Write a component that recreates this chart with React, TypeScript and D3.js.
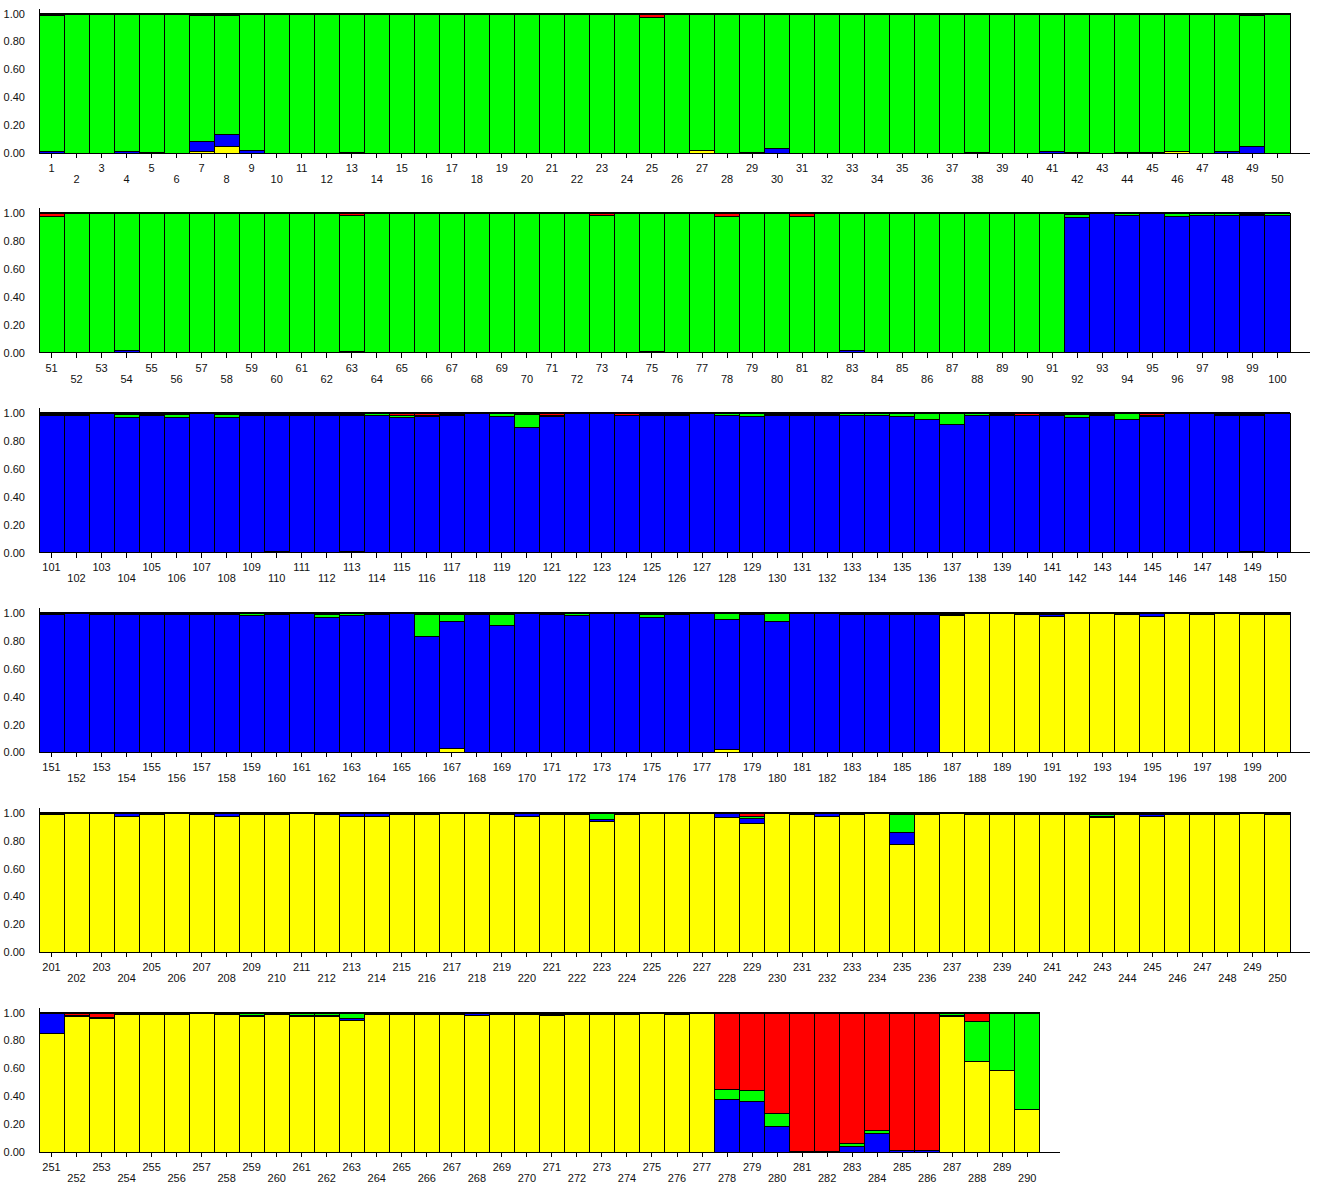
import { useEffect, useRef } from "react"
import * as d3 from "d3"

const WIDTH = 1319
const HEIGHT = 1183

// individuals 1..290, 50 per panel
const individuals = d3.range(1, 291)

// cluster membership (Q) per individual
const yellow = [
  0, 0, 0, 0, 0, 0, .01, .05, 0, 0,
  0, 0, 0, 0, 0, 0, 0, 0, 0, 0,
  0, 0, 0, 0, 0, 0, .015, 0, 0, 0,
  0, 0, 0, 0, 0, 0, 0, 0, 0, 0,
  0, 0, 0, 0, 0, .012, 0, 0, 0, 0,
  // 51-100
  0, 0, 0, 0, 0, 0, 0, 0, 0, 0,
  0, 0, 0, 0, 0, 0, 0, 0, 0, 0,
  0, 0, 0, 0, 0, 0, 0, 0, 0, 0,
  0, 0, 0, 0, 0, 0, 0, 0, 0, 0,
  0, 0, 0, 0, 0, 0, 0, 0, 0, 0,
  // 101-150
  0, 0, 0, 0, 0, 0, 0, 0, 0, .005,
  0, 0, .005, 0, 0, 0, 0, 0, 0, 0,
  0, 0, 0, 0, 0, 0, 0, 0, 0, 0,
  0, 0, 0, 0, 0, 0, 0, 0, 0, 0,
  0, 0, 0, 0, 0, 0, 0, 0, .005, 0,
  // 151-200
  0, 0, 0, 0, 0, 0, 0, 0, 0, 0,
  0, 0, 0, 0, 0, 0, .03, 0, 0, 0,
  0, 0, 0, 0, 0, 0, 0, .02, 0, 0,
  0, 0, 0, 0, 0, 0, .98, .995, .995, .985,
  .975, .995, .995, .985, .975, .995, .985, .995, .985, .985,
  // 201-250
  .985, .995, .995, .975, .985, .995, .985, .975, .985, .985,
  .995, .985, .975, .975, .985, .985, .995, .995, .985, .975,
  .985, .985, .94, .985, .995, .995, .995, .965, .92, .995,
  .985, .975, .985, .995, .77, .985, .995, .985, .985, .985,
  .985, .985, .965, .985, .975, .985, .985, .985, .995, .985,
  // 251-290
  .85, .97, .96, .985, .985, .985, .995, .985, .97, .985,
  .97, .97, .94, .985, .985, .985, .985, .975, .985, .985,
  .975, .985, .985, .985, .995, .985, .995, 0, 0, 0,
  0, 0, 0, 0, 0, 0, .97, .647, .582, .308,
]

const blue = [
  .01, 0, 0, .01, .005, 0, .07, .08, .02, 0,
  0, 0, .005, 0, 0, 0, 0, 0, 0, 0,
  0, 0, 0, 0, 0, 0, 0, 0, .005, .035,
  0, 0, 0, 0, 0, 0, 0, .005, 0, 0,
  .012, .005, 0, .005, .005, 0, 0, .012, .05, 0,
  // 51-100
  0, 0, 0, .02, 0, 0, 0, .005, 0, .005,
  0, 0, .01, 0, .005, .005, 0, 0, .005, .005,
  .005, .005, 0, 0, .012, 0, 0, .005, .005, 0,
  0, 0, .02, 0, 0, .005, .005, 0, 0, 0,
  0, .97, .995, .985, .995, .98, .985, .985, .985, .985,
  // 101-150
  .985, .985, .995, .965, .98, .965, .995, .97, .985, .98,
  .98, .98, .975, .985, .97, .975, .98, .995, .975, .9,
  .975, .995, .995, .98, .98, .985, .995, .985, .975, .985,
  .985, .985, .985, .985, .975, .955, .915, .985, .985, .98,
  .985, .965, .985, .955, .975, .995, .995, .985, .98, .995,
  // 151-200
  .985, .995, .985, .985, .985, .985, .985, .985, .98, .985,
  .995, .97, .98, .985, .995, .83, .91, .985, .91, .995,
  .985, .98, .995, .995, .97, .985, .995, .935, .99, .935,
  .995, .995, .985, .99, .99, .99, .01, .005, .005, .01,
  .015, .005, .005, .01, .02, .005, .01, .005, .01, .01,
  // 201-250
  .01, .005, .005, .02, .01, .005, .01, .02, .01, .01,
  .005, .01, .02, .02, .01, .01, .005, .005, .01, .02,
  .01, .01, .01, .01, .005, .005, .005, .03, .035, .005,
  .01, .02, .01, .005, .085, .01, .005, .01, .01, .01,
  .01, .01, .01, .01, .01, .01, .01, .01, .005, .01,
  // 251-290
  .145, .005, .005, .01, .01, .01, .005, .01, .01, .01,
  .01, .01, .02, .01, .01, .01, .01, .02, .01, .01,
  .01, .01, .01, .01, .005, .01, .005, .375, .363, .184,
  .005, .005, .038, .131, .01, .01, .005, 0, 0, 0,
]

const green = [
  .975, 1, 1, .99, .995, 1, .905, .855, .98, 1,
  1, 1, .995, 1, 1, 1, 1, 1, 1, 1,
  1, 1, 1, 1, .97, 1, .985, 1, .995, .965,
  1, 1, 1, 1, 1, 1, 1, .995, 1, 1,
  .988, .995, 1, .995, .995, .988, 1, .988, .935, 1,
  // 51-100
  .975, 1, 1, .98, 1, 1, 1, .995, 1, .995,
  1, 1, .975, 1, .995, .995, 1, 1, .995, .995,
  .995, .995, .985, 1, .988, 1, 1, .975, .995, 1,
  .98, 1, .98, 1, 1, .995, .995, 1, 1, 1,
  1, .02, .005, .01, .005, .015, .01, .01, .005, .01,
  // 101-150
  .005, .005, .005, .025, .01, .025, .005, .02, .005, .005,
  .01, .01, .01, .01, .01, .005, .01, .005, .02, .09,
  .005, .005, .005, .005, .01, .005, .005, .01, .02, .005,
  .005, .005, .01, .01, .02, .04, .08, .01, .005, .005,
  .005, .025, .005, .04, .005, .005, .005, .005, .005, .005,
  // 151-200
  .005, .005, .005, .005, .005, .005, .005, .005, .015, .005,
  .005, .02, .015, .005, .005, .16, .05, .005, .08, .005,
  .005, .015, .005, .005, .02, .005, .005, .04, .005, .06,
  .005, .005, .005, .005, .005, .005, .005, 0, 0, .005,
  .005, 0, 0, .005, .005, 0, .005, 0, .005, .005,
  // 201-250
  .005, 0, 0, .005, .005, 0, .005, .005, .005, .005,
  0, .005, .005, .005, .005, .005, 0, 0, .005, .005,
  .005, .005, .045, .005, 0, 0, 0, .005, .015, 0,
  .005, .005, .005, 0, .135, .005, 0, .005, .005, .005,
  .005, .005, .01, .005, .015, .005, .005, .005, 0, .005,
  // 251-290
  0, 0, 0, .005, .005, .005, 0, .005, .015, .005,
  .015, .015, .03, .005, .005, .005, .005, .005, .005, .005,
  0, .005, .005, .005, 0, .005, 0, .07, .077, .093,
  0, 0, .024, .024, 0, 0, .015, .289, .418, .692,
]

const red = [
  .015, 0, 0, 0, 0, 0, .015, .015, 0, 0,
  0, 0, 0, 0, 0, 0, 0, 0, 0, 0,
  0, 0, 0, 0, .03, 0, 0, 0, 0, 0,
  0, 0, 0, 0, 0, 0, 0, 0, 0, 0,
  0, 0, 0, 0, 0, 0, 0, 0, .015, 0,
  // 51-100
  .025, 0, 0, 0, 0, 0, 0, 0, 0, 0,
  0, 0, .015, 0, 0, 0, 0, 0, 0, 0,
  0, 0, .015, 0, 0, 0, 0, .02, 0, 0,
  .02, 0, 0, 0, 0, 0, 0, 0, 0, 0,
  0, .01, 0, .005, 0, .005, .005, .005, .01, .005,
  // 101-150
  .01, .01, 0, .01, .01, .01, 0, .01, .01, .01,
  .01, .01, .01, .005, .02, .02, .01, 0, .005, .01,
  .02, 0, 0, .015, .01, .01, 0, .005, .005, .01,
  .01, .01, .005, .005, .005, .005, .005, .005, .01, .015,
  .01, .01, .01, .005, .02, 0, 0, .01, .01, 0,
  // 151-200
  .01, 0, .01, .01, .01, .01, .01, .01, .005, .01,
  0, .01, .005, .01, 0, .01, .01, .01, .01, 0,
  .01, .005, 0, 0, .01, .01, 0, .005, .005, .005,
  0, 0, .01, .005, .005, .005, .005, 0, 0, 0,
  .005, 0, 0, 0, 0, 0, 0, 0, 0, 0,
  // 201-250
  0, 0, 0, 0, 0, 0, 0, 0, 0, 0,
  0, 0, 0, 0, 0, 0, 0, 0, 0, 0,
  0, 0, .005, 0, 0, 0, 0, 0, .03, 0,
  0, 0, 0, 0, .01, 0, 0, 0, 0, 0,
  0, 0, .015, 0, 0, 0, 0, 0, 0, 0,
  // 251-290
  .005, .025, .035, 0, 0, 0, 0, 0, .005, 0,
  .005, .005, .01, 0, 0, 0, 0, 0, 0, 0,
  .015, 0, 0, 0, 0, 0, 0, .555, .56, .723,
  .995, .995, .938, .845, .99, .99, .01, .064, 0, 0,
]

const yTicks = [0, 0.2, 0.4, 0.6, 0.8, 1]

const KEYS = ["yellow", "blue", "green", "red"] as const
const COLORS: Record<string, string> = {
  yellow: "#ffff00",
  blue: "#0000ff",
  green: "#00ff00",
  red: "#ff0000",
}

const PER_ROW = 50
const LEFT = 39
const STEP = 25.02
const ROW_TOP = 13.5
const ROW_GAP = 199.8
const PANEL_H = 139.5

type Row = { id: number; yellow: number; blue: number; green: number; red: number }

export default function App() {
  const svgRef = useRef<SVGSVGElement>(null)

  useEffect(() => {
    if (!svgRef.current) return
    const svg = d3.select(svgRef.current)
    svg.selectAll("*").remove()

    const rows: Row[] = individuals.map((id, i) => ({
      id,
      yellow: yellow[i],
      blue: blue[i],
      green: green[i],
      red: red[i],
    }))

    const nPanels = Math.ceil(rows.length / PER_ROW)
    for (let p = 0; p < nPanels; p++) {
      const data = rows.slice(p * PER_ROW, (p + 1) * PER_ROW)
      const top = ROW_TOP + p * ROW_GAP
      const bottom = top + PANEL_H
      const right = LEFT + data.length * STEP

      const x = d3.scaleBand<number>().domain(data.map((d) => d.id)).range([LEFT, right]).padding(0)
      const y = d3.scaleLinear().domain([0, 1]).range([bottom, top])

      const g = svg.append("g")
      const layers = d3.stack<Row>().keys(KEYS as unknown as string[])(data)

      layers.forEach((layer) => {
        g.append("g")
          .selectAll("rect")
          .data(layer.filter((d) => d[1] - d[0] > 0))
          .join("rect")
          .attr("x", (d) => x(d.data.id)!)
          .attr("y", (d) => y(Math.min(1, d[1])))
          .attr("width", x.bandwidth())
          .attr("height", (d) => Math.max(0, y(d[0]) - y(Math.min(1, d[1]))))
          .attr("fill", COLORS[layer.key])
          .attr("stroke", "#000")
          .attr("stroke-width", 1)
          .attr("shape-rendering", "crispEdges")
      })

      // heavy top rule
      g.append("line")
        .attr("x1", LEFT).attr("x2", right)
        .attr("y1", y(1)).attr("y2", y(1))
        .attr("stroke", "#000").attr("stroke-width", 2)
        .attr("shape-rendering", "crispEdges")

      // small stub above the y axis
      g.append("line")
        .attr("x1", LEFT).attr("x2", LEFT)
        .attr("y1", y(1) - 5).attr("y2", y(1))
        .attr("stroke", "#000")
        .attr("shape-rendering", "crispEdges")

      // x axis
      const xa = g.append("g")
        .attr("transform", `translate(0,${bottom})`)
        .call(d3.axisBottom(x).tickSize(5).tickSizeOuter(0))
      xa.select(".domain").remove()
      xa.selectAll("line").attr("stroke", "#000").attr("shape-rendering", "crispEdges")
      xa.selectAll<SVGTextElement, number>("text")
        .attr("y", (d) => (d % 2 === 1 ? 11 : 22))
        .attr("font-family", "'Liberation Sans', Arial, sans-serif")
        .attr("font-size", 11)
        .attr("fill", "#111")
      g.append("line")
        .attr("x1", LEFT).attr("x2", right + 20)
        .attr("y1", bottom).attr("y2", bottom)
        .attr("stroke", "#000")
        .attr("shape-rendering", "crispEdges")

      // y axis
      const ya = g.append("g")
        .attr("transform", `translate(${LEFT},0)`)
        .call(d3.axisLeft(y).tickValues(yTicks).tickFormat(d3.format(".2f")).tickSize(0).tickPadding(14))
      ya.select(".domain").remove()
      ya.selectAll("text")
        .attr("font-family", "'Liberation Sans', Arial, sans-serif")
        .attr("font-size", 11)
        .attr("fill", "#111")
    }
  }, [])

  return (
    <svg
      ref={svgRef}
      width={WIDTH}
      height={HEIGHT}
      style={{ position: "absolute", left: 0, top: 0, background: "#fff" }}
    />
  )
}
